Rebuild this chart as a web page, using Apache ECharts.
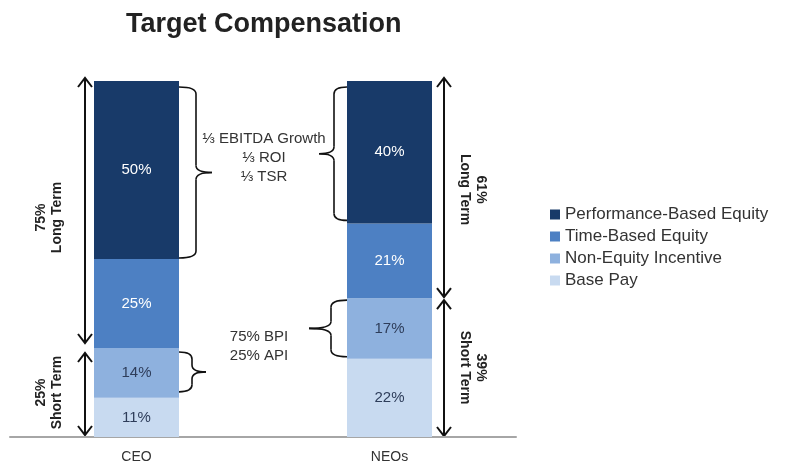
<!DOCTYPE html>
<html>
<head>
<meta charset="utf-8">
<script src="https://cdn.jsdelivr.net/npm/echarts@6/dist/echarts.min.js"></script>
<style>html,body{margin:0;padding:0;background:#fff}#c{width:791px;height:468px}</style>
</head>
<body>
<div id="c"></div>
<script>
const categories = ['CEO', 'NEOs'];
const performanceEquity = [50, 40];
const timeEquity = [25, 21];
const nonEquityIncentive = [14, 17];
const basePay = [11, 22];
const longTerm = [75, 61];
const shortTerm = [25, 39];
const seriesNames = ['Performance-Based Equity', 'Time-Based Equity', 'Non-Equity Incentive', 'Base Pay'];
const perfNote = '⅓ EBITDA Growth\n⅓ ROI\n⅓ TSR';
const incentiveNote = '75% BPI\n25% API';

(function () {
const FONT = '"Liberation Sans", Arial, sans-serif';
const colors = {
  perf: '#183a69',
  time: '#4d80c3',
  nonEq: '#8eb1de',
  base: '#c8daf0'
};
const BAR_W = 85;

function mkSeries(name, data, color, labelColor) {
  return {
    name, type: 'bar', stack: 'total', data, barWidth: BAR_W,
    itemStyle: { color },
    label: { show: true, position: 'inside', formatter: '{c}%', color: labelColor, fontSize: 15, fontFamily: FONT },
    emphasis: { disabled: true }
  };
}

const chart = echarts.init(document.getElementById('c'));
chart.setOption({
  animation: false,
  title: {
    text: 'Target Compensation', left: 121, top: 6,
    textStyle: { fontSize: 27, fontWeight: 'bold', color: '#222', fontFamily: FONT }
  },
  legend: {
    orient: 'vertical', left: 545, top: 201,
    data: seriesNames,
    icon: 'rect', itemWidth: 10, itemHeight: 10, itemGap: 5,
    textStyle: { fontSize: 17, color: '#333', fontFamily: FONT }
  },
  grid: { left: 10, right: 275, top: 81, bottom: 31 },
  xAxis: {
    type: 'category', data: categories,
    axisLine: { lineStyle: { color: '#a6a6a6', width: 2 } },
    axisTick: { show: false },
    axisLabel: { fontSize: 14, color: '#333', margin: 13, fontFamily: FONT }
  },
  yAxis: { type: 'value', min: 0, max: 100, show: false, splitLine: { show: false } },
  series: [
    mkSeries(seriesNames[3], basePay, colors.base, '#2e3d5a'),
    mkSeries(seriesNames[2], nonEquityIncentive, colors.nonEq, '#2e3d5a'),
    mkSeries(seriesNames[1], timeEquity, colors.time, '#ffffff'),
    mkSeries(seriesNames[0], performanceEquity, colors.perf, '#ffffff')
  ]
});

const Y = v => chart.convertToPixel({ yAxisIndex: 0 }, v);
const X = c => chart.convertToPixel({ xAxisIndex: 0 }, c);
const stroke = { stroke: '#111', lineWidth: 2, fill: null };
const bstroke = { stroke: '#111', lineWidth: 1.6, fill: null };

function arrow(x, y1, y2) {
  const h = 9, w = 7;
  return [
    { type: 'polyline', shape: { points: [[x, y1], [x, y2]] }, style: stroke },
    { type: 'polyline', shape: { points: [[x - w, y1 + h], [x, y1], [x + w, y1 + h]] }, style: stroke },
    { type: 'polyline', shape: { points: [[x - w, y2 - h], [x, y2], [x + w, y2 - h]] }, style: stroke }
  ];
}
function curve(x1, y1, cx, cy, x2, y2) {
  return { type: 'bezierCurve', shape: { x1, y1, x2, y2, cpx1: cx, cpy1: cy }, style: bstroke };
}
function seg(x1, y1, x2, y2) {
  return { type: 'line', shape: { x1, y1, x2, y2 }, style: bstroke };
}
function brace(x0, xv, xt, yT, yB) {
  const ym = (yT + yB) / 2, r = 7;
  return [
    curve(x0, yT, xv, yT, xv, yT + r),
    seg(xv, yT + r, xv, ym - r),
    curve(xv, ym - r, xv, ym, xt, ym),
    curve(xt, ym, xv, ym, xv, ym + r),
    seg(xv, ym + r, xv, yB - r),
    curve(xv, yB - r, xv, yB, x0, yB)
  ];
}
function rotText(x, y, text, rot) {
  return { type: 'text', x, y, rotation: rot,
    style: { text, align: 'center', verticalAlign: 'middle', font: 'bold 14px ' + FONT, fill: '#222', lineHeight: 16 } };
}
function noteText(x, y, text) {
  return { type: 'text', x, y,
    style: { text, align: 'center', verticalAlign: 'middle', font: '15px ' + FONT, fill: '#333', lineHeight: 19 } };
}

const cx0 = X(categories[0]), cx1 = X(categories[1]);
const hw = BAR_W / 2;
const L0 = cx0 - hw, R0 = cx0 + hw, L1 = cx1 - hw, R1 = cx1 + hw;
const yBase = Y(0), yTop = Y(100);

const ceoSplit = Y(shortTerm[0]);
const neoSplit = Y(shortTerm[1]);
const g = [];
g.push(...arrow(L0 - 9, yTop - 3, ceoSplit - 5));
g.push(...arrow(L0 - 9, ceoSplit + 5, yBase - 2));
g.push(rotText(L0 - 45, (yTop + ceoSplit) / 2 + 3, longTerm[0] + '%\nLong Term', Math.PI / 2));
g.push(rotText(L0 - 45, (ceoSplit + yBase) / 2, shortTerm[0] + '%\nShort Term', Math.PI / 2));
g.push(...arrow(R1 + 12, yTop - 3, neoSplit - 1));
g.push(...arrow(R1 + 12, neoSplit + 2, yBase - 1));
g.push(rotText(R1 + 41, (yTop + neoSplit) / 2, longTerm[1] + '%\nLong Term', -Math.PI / 2));
g.push(rotText(R1 + 41, (neoSplit + yBase) / 2, shortTerm[1] + '%\nShort Term', -Math.PI / 2));

const ceoPerfB = Y(100 - performanceEquity[0]);
const ceoNonT = Y(basePay[0] + nonEquityIncentive[0]), ceoNonB = Y(basePay[0]);
const neoPerfB = Y(100 - performanceEquity[1]);
const neoNonT = Y(basePay[1] + nonEquityIncentive[1]), neoNonB = Y(basePay[1]);
g.push(...brace(R0, R0 + 17, R0 + 33, yTop + 6, ceoPerfB - 1));
g.push(...brace(R0, R0 + 13, R0 + 27, ceoNonT + 4, ceoNonB - 6));
g.push(...brace(L1, L1 - 13, L1 - 28, yTop + 6, neoPerfB - 3));
g.push(...brace(L1, L1 - 16, L1 - 38, neoNonT + 2, neoNonB - 2));

const tip1 = (yTop + 6 + ceoPerfB - 1) / 2, tip2 = (yTop + 6 + neoPerfB - 3) / 2;
g.push(noteText((R0 + L1) / 2 + 1, (tip1 + tip2) / 2 - 5, perfNote));
const tip3 = (ceoNonT + 4 + ceoNonB - 6) / 2, tip4 = (neoNonT + 2 + neoNonB - 2) / 2;
g.push(noteText((R0 + L1) / 2 - 4, (tip3 + tip4) / 2 - 4, incentiveNote));

chart.setOption({ graphic: g });
})();
</script>
</body>
</html>
